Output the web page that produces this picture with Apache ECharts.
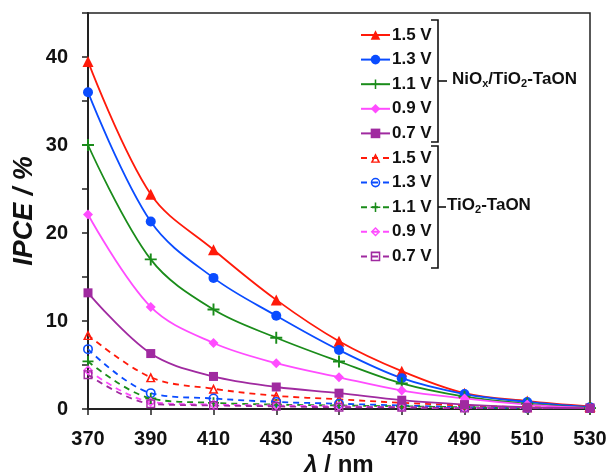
<!DOCTYPE html>
<html><head><meta charset="utf-8">
<script src="https://cdn.jsdelivr.net/npm/echarts@6/dist/echarts.min.js"></script>
<style>html,body{margin:0;padding:0;background:#fff}#c{width:610px;height:474px}</style>
</head><body><div id="c"></div>
<script>
const wavelengths = ['370','390','410','430','450','470','490','510','530'];
const yTicks = [0,10,20,30,40];
const voltages = ['1.5 V','1.3 V','1.1 V','0.9 V','0.7 V'];

const nio_15 = [39.5, 24.4, 18.1, 12.4, 7.7, 4.3, 1.8, 0.9, 0.3];
const nio_13 = [36.0, 21.3, 14.9, 10.6, 6.7, 3.5, 1.7, 0.8, 0.2];
const nio_11 = [30.0, 17.0, 11.3, 8.1, 5.4, 2.9, 1.4, 0.6, 0.1];
const nio_09 = [22.1, 11.6, 7.5, 5.2, 3.6, 2.1, 1.2, 0.5, 0.1];
const nio_07 = [13.2, 6.3, 3.7, 2.5, 1.8, 1.0, 0.5, 0.2, 0.1];

const tio_15 = [8.4, 3.6, 2.3, 1.5, 1.1, 0.7, 0.4, 0.2, 0.1];
const tio_13 = [6.8, 1.8, 1.2, 0.8, 0.6, 0.4, 0.2, 0.1, 0.1];
const tio_11 = [5.4, 1.2, 0.7, 0.5, 0.4, 0.3, 0.2, 0.1, 0.1];
const tio_09 = [4.4, 0.8, 0.5, 0.4, 0.3, 0.2, 0.1, 0.1, 0.1];
const tio_07 = [3.9, 0.6, 0.4, 0.3, 0.2, 0.2, 0.1, 0.1, 0.1];

const colors = ['#ff1a0a', '#0a4cff', '#1a8c1a', '#ff4cff', '#a02aa0'];
const plusPath = 'path://M4.2,0h1.6v4.2h4.2v1.6h-4.2v4.2h-1.6v-4.2h-4.2v-1.6h4.2z';
const ringTri = 'path://M5,0L10,9L0,9ZM5,3.1L2.6,7.7L7.4,7.7Z';
const ringCircle = 'path://M5,0A5,5 0 1,0 5,10A5,5 0 1,0 5,0ZM5,1.6A3.4,3.4 0 1,1 5,8.4A3.4,3.4 0 1,1 5,1.6Z';
const ringDiamond = 'path://M5,0L10,5L5,10L0,5ZM5,2.1L2.1,5L5,7.9L7.9,5Z';
const ringSquare = 'path://M0,0H10V10H0ZM1.6,1.6V8.4H8.4V1.6Z';
const solidSyms = ['triangle','circle',plusPath,'diamond','rect'];
const openSyms = [ringTri, ringCircle, plusPath, ringDiamond, ringSquare];
const solidSizes = [11, 10, 12, 10, 9];
const openSizes = [10, 10, 11, 10, 9];
const nioData = [nio_15, nio_13, nio_11, nio_09, nio_07];
const tioData = [tio_15, tio_13, tio_11, tio_09, tio_07];

const series = [];
voltages.forEach((v, i) => {
  series.push({
    name: 'A|' + v, type: 'line', data: nioData[i], smooth: 0.35,
    symbol: solidSyms[i], symbolSize: solidSizes[i],
    lineStyle: {color: colors[i], width: 1.8},
    itemStyle: {color: colors[i]}, z: 3
  });
});
voltages.forEach((v, i) => {
  series.push({
    name: 'B|' + v, type: 'line', data: tioData[i], smooth: 0.35,
    symbol: openSyms[i], symbolSize: openSizes[i],
    lineStyle: {color: colors[i], width: 1.8, type: [6, 5]},
    itemStyle: {color: colors[i]}, z: 2
  });
});

const FONT = 'Liberation Sans, Arial, sans-serif';
const legendCommon = {
  orient: 'vertical', left: 355, itemWidth: 29, itemHeight: 12, itemGap: 7.6,
  textStyle: {fontFamily: FONT, fontWeight: 'bold', fontSize: 17, color: '#111', padding: [0,0,0,-3]},
  formatter: n => n.split('|')[1], selectedMode: false
};

const chart = echarts.init(document.getElementById('c'), null, {renderer: 'canvas'});
const bracket = (x, y1, y2) => ({
  type: 'polyline', shape: {points: [[x-7,y1],[x,y1],[x,y2],[x-7,y2]]},
  style: {stroke: '#111', lineWidth: 1.6, fill: null}
});
const labelRich = {
  b: {fontFamily: FONT, fontWeight: 'bold', fontSize: 17, fill: '#111'},
  s: {fontFamily: FONT, fontWeight: 'bold', fontSize: 11, fill: '#111', padding: [9,0,0,0]}
};
chart.setOption({
  animation: false,
  grid: {left: 88, right: 20, top: 13, bottom: 65, show: true, borderColor: '#222', borderWidth: 1.5,
         containLabel: false, outerBoundsMode: 'none'},
  xAxis: {
    type: 'category', data: wavelengths, boundaryGap: false,
    axisLine: {lineStyle: {color: '#222', width: 2}},
    axisTick: {alignWithLabel: true, length: 6, lineStyle: {color: '#222', width: 1.5}},
    axisLabel: {fontFamily: FONT, fontWeight: 'bold', fontSize: 20, color: '#111', margin: 20},
    name: '{i|λ} / nm', nameLocation: 'middle', nameGap: 44, nameMoveOverlap: false,
    nameTextStyle: {fontFamily: FONT, fontWeight: 'bold', fontSize: 24, color: '#111',
      rich: {i: {fontFamily: FONT, fontWeight: 'bold', fontStyle: 'italic', fontSize: 24, color: '#111'}}},
    splitLine: {show: false}
  },
  yAxis: {
    type: 'value', min: 0, max: 45, interval: 5,
    axisLine: {show: true, lineStyle: {color: '#222', width: 2}},
    axisTick: {show: true, length: 6, lineStyle: {color: '#222', width: 1.5}},
    axisLabel: {fontFamily: FONT, fontWeight: 'bold', fontSize: 20, color: '#111', margin: 20,
      formatter: v => yTicks.includes(v) ? String(v) : ''},
    splitLine: {show: false},
    name: 'IPCE / %', nameLocation: 'middle', nameGap: 50, nameRotate: 90, nameMoveOverlap: false,
    nameTextStyle: {fontFamily: FONT, fontWeight: 'bold', fontStyle: 'italic', fontSize: 27, color: '#111'}
  },
  legend: [
    Object.assign({top: 21.5, data: voltages.map(v => 'A|' + v)}, legendCommon),
    Object.assign({top: 144.5, data: voltages.map(v => 'B|' + v)}, legendCommon)
  ],
  graphic: [
    bracket(438, 20, 142),
    {type: 'line', shape: {x1: 438, y1: 81, x2: 447, y2: 81}, style: {stroke: '#111', lineWidth: 1.6}},
    {type: 'text', left: 452, top: 71, style: {text: '{b|NiO}{s|x}{b|/TiO}{s|2}{b|-TaON}', rich: labelRich}},
    bracket(438, 146, 268),
    {type: 'line', shape: {x1: 438, y1: 207, x2: 446, y2: 207}, style: {stroke: '#111', lineWidth: 1.6}},
    {type: 'text', left: 447, top: 197, style: {text: '{b|TiO}{s|2}{b|-TaON}', rich: labelRich}}
  ],
  series: series
});
</script></body></html>
